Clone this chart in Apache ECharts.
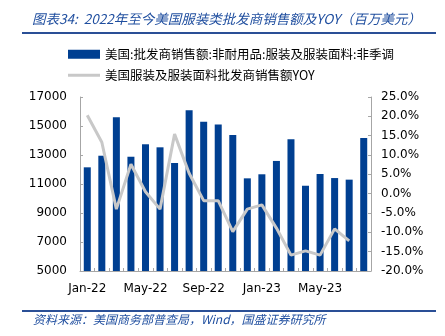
<!DOCTYPE html>
<html><head><meta charset="utf-8">
<script src="https://cdn.jsdelivr.net/npm/echarts@6/dist/echarts.min.js"></script>
<style>html,body{margin:0;padding:0;background:#fff}#c{width:445px;height:336px}</style>
</head><body><div id="c"></div>
<script>
const categories = ['Jan-22','Feb-22','Mar-22','Apr-22','May-22','Jun-22','Jul-22','Aug-22','Sep-22','Oct-22','Nov-22','Dec-22','Jan-23','Feb-23','Mar-23','Apr-23','May-23','Jun-23','Jul-23','Aug-23'];
const sales = [12150,12950,15600,12880,13740,13530,12450,16080,15300,15100,14380,11390,11670,12590,14080,10880,11690,11410,11300,14170];
const yoy = [20.3,13.3,-4.0,7.6,0.5,-4.0,15.4,5.3,-1.8,-1.8,-9.8,-4.0,-2.9,-8.9,-15.9,-14.8,-15.9,-9.1,-12.2,null];
const leftTicks = {min:5000,max:17000,interval:2000};
const rightTicks = {min:-20,max:25,interval:5};
const name1 = '美国:批发商销售额:非耐用品:服装及服装面料:非季调';
const name2 = '美国服装及服装面料批发商销售额YOY';
const titleText = '图表34:  2022年至今美国服装类批发商销售额及YOY（百万美元）';
const sourceText = '资料来源：美国商务部普查局，Wind，国盛证券研究所';

const chart = echarts.init(document.getElementById('c'), null, {renderer:'canvas'});
const axisGrey = '#a6a6a6';
const numFont = 'DejaVu Sans';
chart.setOption({
  animation:false,
  graphic:[
    {type:'text', left:32, top:12, style:{text:titleText, fill:'#1f4e9f', font:'italic 13.5px "Noto Sans CJK SC", "DejaVu Sans"'}},
    {type:'rect', shape:{x:22,y:32,width:414,height:2}, style:{fill:'#2a4f96'}},
    {type:'rect', shape:{x:22,y:310,width:414,height:2}, style:{fill:'#2a4f96'}},
    {type:'text', left:33, top:313, style:{text:sourceText, fill:'#1f4e9f', font:'italic 12px "Noto Sans CJK SC", "DejaVu Sans"'}}
  ],
  legend:[
    {data:[{name:name1, icon:'rect'}], left:63, top:43, itemWidth:32, itemHeight:9, itemGap:4,
     textStyle:{fontSize:12.5, color:'#000', fontFamily:'"Noto Sans CJK SC"'}},
    {data:[{name:name2, icon:'rect'}], left:63, top:64, itemWidth:32, itemHeight:3, itemGap:4,
     textStyle:{fontSize:12.5, color:'#000', fontFamily:'"Noto Sans CJK SC"'}}
  ],
  grid:{left:80, right:74, top:97, height:174, containLabel:false},
  xAxis:{type:'category', data:categories, boundaryGap:true,
    axisLine:{onZero:false, lineStyle:{color:axisGrey}},
    axisTick:{show:true, inside:true, length:3, interval:0, lineStyle:{color:axisGrey}},
    axisLabel:{interval:3, color:'#000', fontSize:12, fontFamily:numFont, margin:12}},
  yAxis:[
    {type:'value', min:leftTicks.min, max:leftTicks.max, interval:leftTicks.interval,
     splitLine:{show:false},
     axisLine:{show:true, lineStyle:{color:axisGrey}},
     axisTick:{show:true, inside:true, length:3, lineStyle:{color:axisGrey}},
     axisLabel:{color:'#000', fontSize:12, fontFamily:numFont, margin:13, formatter:v=>String(v)}},
    {type:'value', min:rightTicks.min, max:rightTicks.max, interval:rightTicks.interval, position:'right',
     splitLine:{show:false},
     axisLine:{show:true, lineStyle:{color:axisGrey}},
     axisTick:{show:true, inside:true, length:3, lineStyle:{color:axisGrey}},
     axisLabel:{color:'#000', fontSize:12, fontFamily:numFont, margin:10,
       formatter:v=>v.toFixed(1)+'%'}}
  ],
  series:[
    {name:name1, type:'bar', data:sales, yAxisIndex:0, barWidth:7, itemStyle:{color:'#003f91'}},
    {name:name2, type:'line', data:yoy, yAxisIndex:1, symbol:'none', itemStyle:{color:'#c8c8c8'},
     lineStyle:{color:'#c8c8c8', width:3}}
  ]
});
</script></body></html>
